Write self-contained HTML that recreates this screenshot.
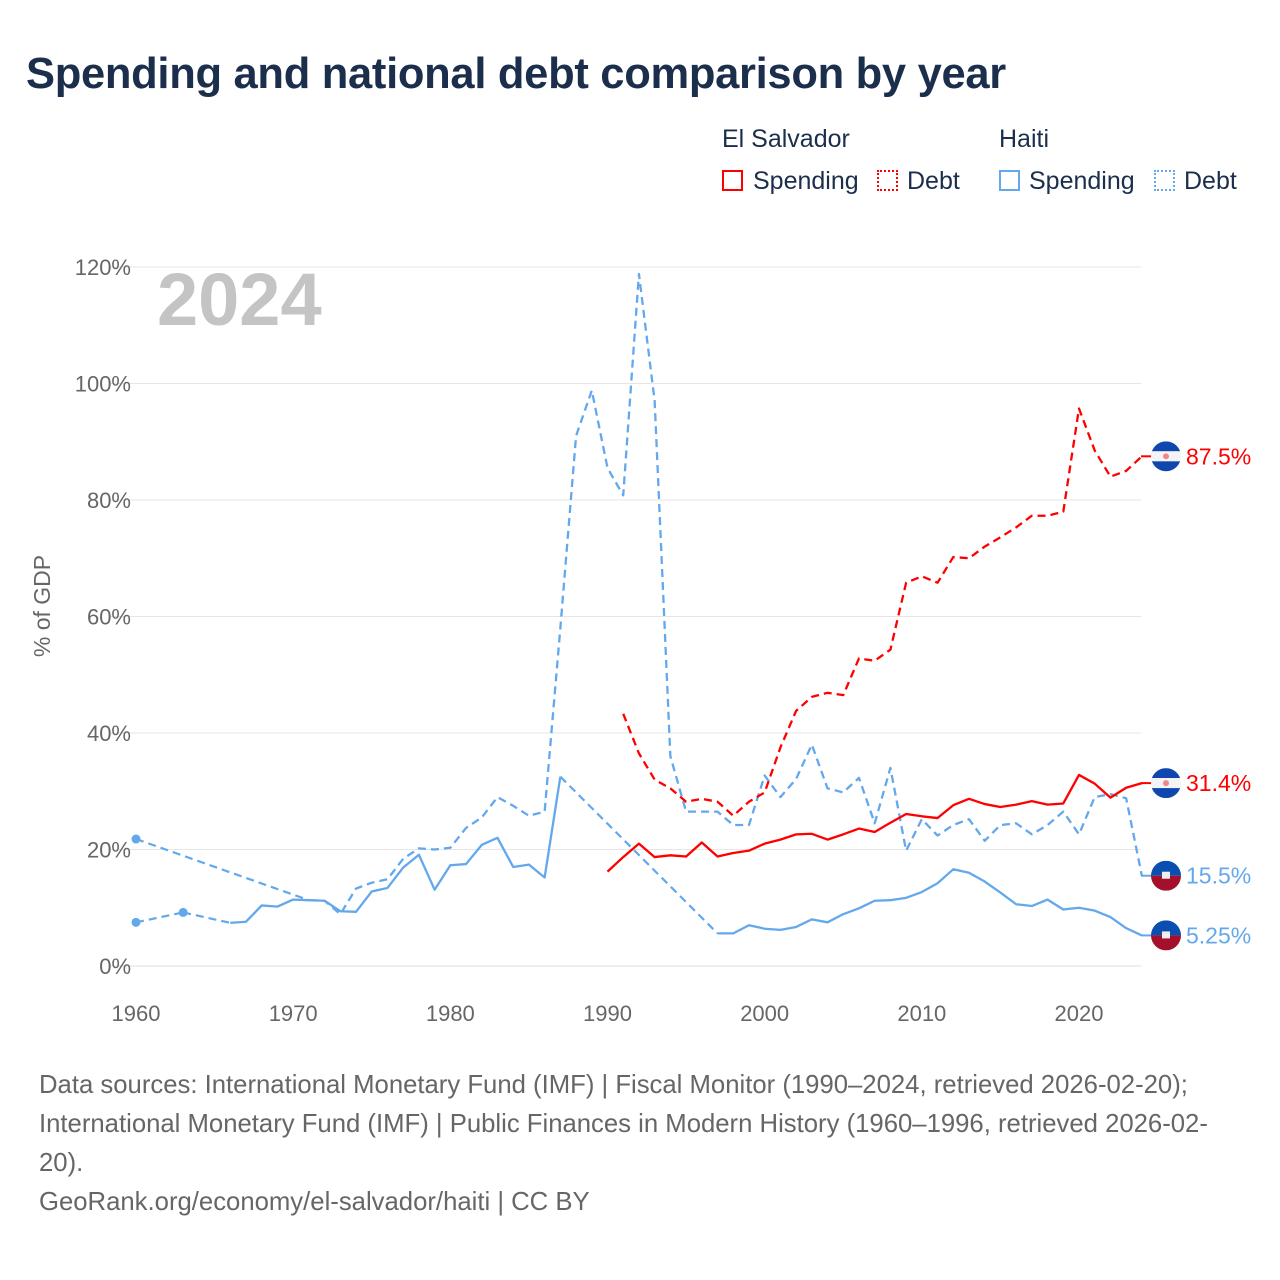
<!DOCTYPE html>
<html><head><meta charset="utf-8"><style>
body{margin:0;background:#fff;font-family:"Liberation Sans",sans-serif;}
#wrap{position:relative;width:1280px;height:1280px;overflow:hidden}
h1{position:absolute;left:26px;top:50px;margin:0;font-size:43.5px;font-weight:bold;color:#1b2e4b;letter-spacing:-0.3px}
.lg{position:absolute;font-size:25px;color:#1b2e4b}
.sw{position:absolute;width:21px;height:21px;box-sizing:border-box}
.foot{position:absolute;left:39px;font-size:25.7px;color:#666;line-height:39px;white-space:nowrap}
</style></head><body>
<div id="wrap">
<h1>Spending and national debt comparison by year</h1>
<div class="lg" style="left:722px;top:125px">El Salvador</div>
<div class="lg" style="left:999px;top:125px">Haiti</div>
<div class="sw" style="left:722px;top:170px;border:2px solid #f00"></div>
<div class="lg" style="left:753px;top:167px">Spending</div>
<div class="sw" style="left:877px;top:170px;border:2px dotted #f00"></div>
<div class="lg" style="left:907px;top:167px">Debt</div>
<div class="sw" style="left:999px;top:170px;border:2px solid #64a8ec"></div>
<div class="lg" style="left:1029px;top:167px">Spending</div>
<div class="sw" style="left:1154px;top:170px;border:2px dotted #64a8ec"></div>
<div class="lg" style="left:1184px;top:167px">Debt</div>
<svg id="chart" width="1280" height="1280" style="position:absolute;left:0;top:0"></svg>
<div class="foot" style="top:1066px">Data sources: International Monetary Fund (IMF) | Fiscal Monitor (1990–2024, retrieved 2026-02-20);<br>International Monetary Fund (IMF) | Public Finances in Modern History (1960–1996, retrieved 2026-02-<br>20).</div>
<div class="foot" style="top:1183px">GeoRank.org/economy/el-salvador/haiti | CC BY</div>
</div>
<script>
const years=[];for(let y=1960;y<=2024;y++)years.push(y);
const yTicks=[0,20,40,60,80,100,120];
const xTicks=[1960,1970,1980,1990,2000,2010,2020];
const htSpending=[7.5,null,null,9.2,null,null,7.4,7.6,10.4,10.2,11.4,11.3,11.2,9.4,9.3,12.8,13.4,16.9,19.1,13.1,17.3,17.5,20.8,22.0,17.0,17.4,15.2,32.5,null,null,null,null,null,null,null,null,null,5.6,5.6,7.0,6.4,6.2,6.7,8.0,7.5,8.9,9.9,11.2,11.3,11.7,12.7,14.2,16.6,16.0,14.5,12.6,10.6,10.3,11.4,9.7,10.0,9.5,8.4,6.5,5.25];
const htDebt=[21.8,null,null,null,null,null,null,null,null,null,null,11.3,11.2,8.9,13.3,14.3,14.9,18.4,20.2,20.0,20.3,23.7,25.5,29.0,27.5,25.8,26.5,58,91,98.8,85.5,80.8,118.8,97,36,26.5,26.5,26.5,24.2,24.2,32.7,29.0,32.1,38.0,30.5,29.8,32.3,24.5,34.0,19.8,25.2,22.4,24.2,25.2,21.5,24.2,24.5,22.6,24.2,26.5,22.6,29.0,29.5,28.8,15.5];
const esSpending=[...Array(30).fill(null),16.2,18.7,21.0,18.7,19.0,18.8,21.2,18.8,19.4,19.8,21.0,21.7,22.6,22.7,21.7,22.6,23.6,23.0,24.6,26.1,25.7,25.4,27.6,28.7,27.8,27.3,27.7,28.3,27.7,27.9,32.8,31.3,28.9,30.6,31.4];
const esDebt=[...Array(31).fill(null),43.3,36.5,32.0,30.5,28.2,28.7,28.2,25.8,28.2,29.8,37.5,43.8,46.2,46.9,46.5,52.8,52.4,54.3,65.8,66.9,65.8,70.2,70.0,72.0,73.6,75.3,77.3,77.3,78.0,95.7,88.5,84.0,85.0,87.5];
const NS='http://www.w3.org/2000/svg';
const svg=document.getElementById('chart');
const X=y=>136+(y-1960)*(1079-136)/60;
const Y=v=>966-v*(966-267)/120;
function el(t,a,p){const e=document.createElementNS(NS,t);for(const k in a)e.setAttribute(k,a[k]);(p||svg).appendChild(e);return e;}
yTicks.forEach(t=>{
  const l=el('line',{x1:110,x2:1141,y1:Y(t),y2:Y(t),stroke:t===0?'#ddd':'#e6e6e6','stroke-width':1});
  
  
  const tx=el('text',{x:131,y:Y(t)+8,'text-anchor':'end','font-size':22,fill:'#666','font-family':'Liberation Sans,sans-serif'});
  tx.textContent=t+'%';
  
  
});
xTicks.forEach(t=>{
  const tx=el('text',{x:X(t),y:1021,'text-anchor':'middle','font-size':22,fill:'#666','font-family':'Liberation Sans,sans-serif'});
  tx.textContent=t;
  
  
});
const yt=el('text',{x:0,y:0,transform:'translate(50,606) rotate(-90)','text-anchor':'middle','font-size':23,fill:'#666','font-family':'Liberation Sans,sans-serif'});
yt.textContent='% of GDP';


const yr=el('text',{x:157,y:325,'font-size':74,'font-weight':'bold',fill:'#c4c4c4','font-family':'Liberation Sans,sans-serif'});
yr.textContent='2024';


function series(vals,color,dashed,name){
  const g=el('g',{});
  
  
  const pts=[];vals.forEach((v,i)=>{if(v!==null)pts.push([X(years[i]),Y(v),i]);});
  let seg=[];const segs=[];
  for(let k=0;k<pts.length;k++){
    if(k>0&&pts[k][2]!==pts[k-1][2]+1){
      segs.push(seg);seg=[];
      el('line',{x1:pts[k-1][0],y1:pts[k-1][1],x2:pts[k][0],y2:pts[k][1],stroke:color,'stroke-width':2.2,'stroke-dasharray':'8,5'},g);
    }
    seg.push(pts[k]);
  }
  segs.push(seg);
  segs.forEach(s=>{
    if(s.length===1){const c=el('circle',{cx:s[0][0],cy:s[0][1],r:4.5,fill:color},g);}
    else el('polyline',{points:s.map(p=>p[0]+','+p[1]).join(' '),fill:'none',stroke:color,'stroke-width':2.3,'stroke-linejoin':'round','stroke-dasharray':dashed?'8,5':'none'},g);
  });
}
series(htDebt,'#64a8ec',true,'haiti-debt');
series(htSpending,'#64a8ec',false,'haiti-spending');
series(esDebt,'#f00',true,'el-salvador-debt');
series(esSpending,'#f00',false,'el-salvador-spending');
function endLabel(v,color,flag,name){
  const cy=Y(v),cx=1166;
  const g=el('g',{});
  
  
  el('line',{x1:1141,y1:cy,x2:1152,y2:cy,stroke:color,'stroke-width':2},g);
  const cp='cp'+name;
  const d=el('clipPath',{id:cp},g);el('circle',{cx:cx,cy:cy,r:15},d);
  const fg=el('g',{'clip-path':'url(#'+cp+')'},g);
  if(flag==='es'){
    el('rect',{x:cx-15,y:cy-15,width:30,height:10,fill:'#0f47af'},fg);
    el('rect',{x:cx-15,y:cy-5,width:30,height:10,fill:'#f4f4f4'},fg);
    el('rect',{x:cx-15,y:cy+5,width:30,height:10,fill:'#0f47af'},fg);
    el('circle',{cx:cx,cy:cy,r:3,fill:'#e88'},fg);
  }else{
    el('rect',{x:cx-15,y:cy-15,width:30,height:15,fill:'#0a4fb0'},fg);
    el('rect',{x:cx-15,y:cy,width:30,height:15,fill:'#a4102b'},fg);
    el('rect',{x:cx-4,y:cy-4,width:8,height:7,fill:'#eee'},fg);
  }
  const t=el('text',{x:1186,y:cy+8,'font-size':23,fill:color,'font-family':'Liberation Sans,sans-serif'},g);
  t.textContent=(v===5.25?'5.25':v.toFixed(1))+'%';
}
endLabel(esDebt[64],'#f00','es','el-salvador-debt');
endLabel(esSpending[64],'#f00','es','el-salvador-spending');
endLabel(htDebt[64],'#64a8ec','ht','haiti-debt');
endLabel(htSpending[64],'#64a8ec','ht','haiti-spending');
</script>
</body></html>
